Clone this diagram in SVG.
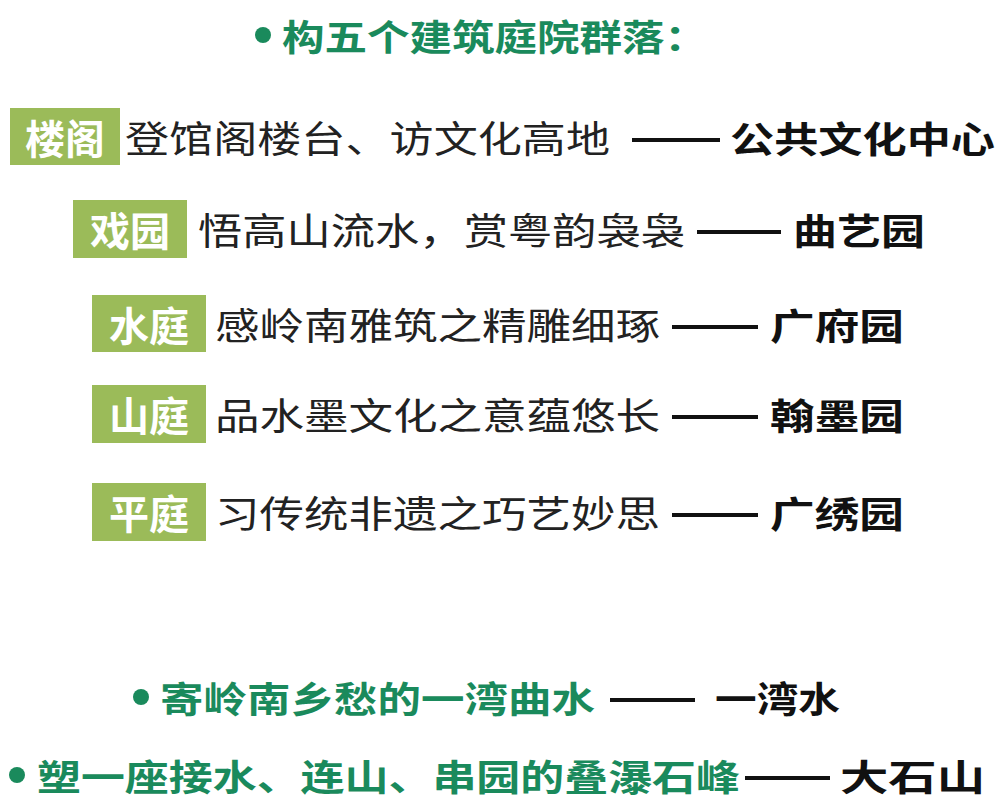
<svg xmlns="http://www.w3.org/2000/svg" width="1000" height="809" viewBox="0 0 1000 809">
<style>
text{font-family:"Noto Sans CJK SC","Noto Sans",sans-serif;dominant-baseline:central}
.g{fill:#1a8a5c;font-weight:bold;font-size:36px}
.box{fill:#9bbb59}
.bt{fill:#fff;font-weight:bold;font-size:40px}
.t{fill:#222;font-size:37px}
.b{fill:#111;font-weight:bold;font-size:36px}
.d{stroke:#111;stroke-width:4}
.dot{fill:#1a8a5c}
</style>
<rect width="1000" height="809" fill="#fff"/>
<g id="title"><circle class="dot" cx="263" cy="35" r="8"/><text class="g" x="282" y="35" textLength="425" lengthAdjust="spacingAndGlyphs">构五个建筑庭院群落：</text></g>
<g id="row1"><rect class="box" x="10" y="108" width="110" height="57"/><text class="bt" x="65" y="137" text-anchor="middle">楼阁</text>
<text class="t" x="125" y="137" textLength="485" lengthAdjust="spacingAndGlyphs">登馆阁楼台、访文化高地</text>
<line class="d" x1="632" y1="140" x2="720" y2="140"/><text class="b" x="730" y="137" textLength="265" lengthAdjust="spacingAndGlyphs">公共文化中心</text></g>
<g id="row2"><rect class="box" x="73" y="200" width="114" height="58"/><text class="bt" x="130" y="229" text-anchor="middle">戏园</text>
<text class="t" x="198" y="229" textLength="487" lengthAdjust="spacingAndGlyphs">悟高山流水，赏粤韵袅袅</text>
<line class="d" x1="697" y1="232" x2="781" y2="232"/><text class="b" x="793" y="229" textLength="132" lengthAdjust="spacingAndGlyphs">曲艺园</text></g>
<g id="row3"><rect class="box" x="92" y="295" width="114" height="57"/><text class="bt" x="149" y="324" text-anchor="middle">水庭</text>
<text class="t" x="215" y="324" textLength="445" lengthAdjust="spacingAndGlyphs">感岭南雅筑之精雕细琢</text>
<line class="d" x1="672" y1="327" x2="758" y2="327"/><text class="b" x="770" y="324" textLength="134" lengthAdjust="spacingAndGlyphs">广府园</text></g>
<g id="row4"><rect class="box" x="92" y="385" width="114" height="58"/><text class="bt" x="149" y="414" text-anchor="middle">山庭</text>
<text class="t" x="215" y="414" textLength="445" lengthAdjust="spacingAndGlyphs">品水墨文化之意蕴悠长</text>
<line class="d" x1="672" y1="417" x2="758" y2="417"/><text class="b" x="770" y="414" textLength="134" lengthAdjust="spacingAndGlyphs">翰墨园</text></g>
<g id="row5"><rect class="box" x="92" y="483" width="114" height="58"/><text class="bt" x="149" y="512" text-anchor="middle">平庭</text>
<text class="t" x="215" y="512" textLength="445" lengthAdjust="spacingAndGlyphs">习传统非遗之巧艺妙思</text>
<line class="d" x1="672" y1="515" x2="758" y2="515"/><text class="b" x="770" y="512" textLength="134" lengthAdjust="spacingAndGlyphs">广绣园</text></g>
<g id="line6"><circle class="dot" cx="141" cy="697" r="8"/><text class="g" x="160" y="697" textLength="435" lengthAdjust="spacingAndGlyphs">寄岭南乡愁的一湾曲水</text>
<line class="d" x1="610" y1="700" x2="695" y2="700"/><text class="b" x="715" y="697" textLength="125" lengthAdjust="spacingAndGlyphs">一湾水</text></g>
<g id="line7"><circle class="dot" cx="17" cy="775" r="8"/><text class="g" x="37" y="775" textLength="703" lengthAdjust="spacingAndGlyphs">塑一座接水、连山、串园的叠瀑石峰</text>
<line class="d" x1="745" y1="778" x2="830" y2="778"/><text class="b" x="840" y="775" textLength="145" lengthAdjust="spacingAndGlyphs">大石山</text></g>
</svg>
